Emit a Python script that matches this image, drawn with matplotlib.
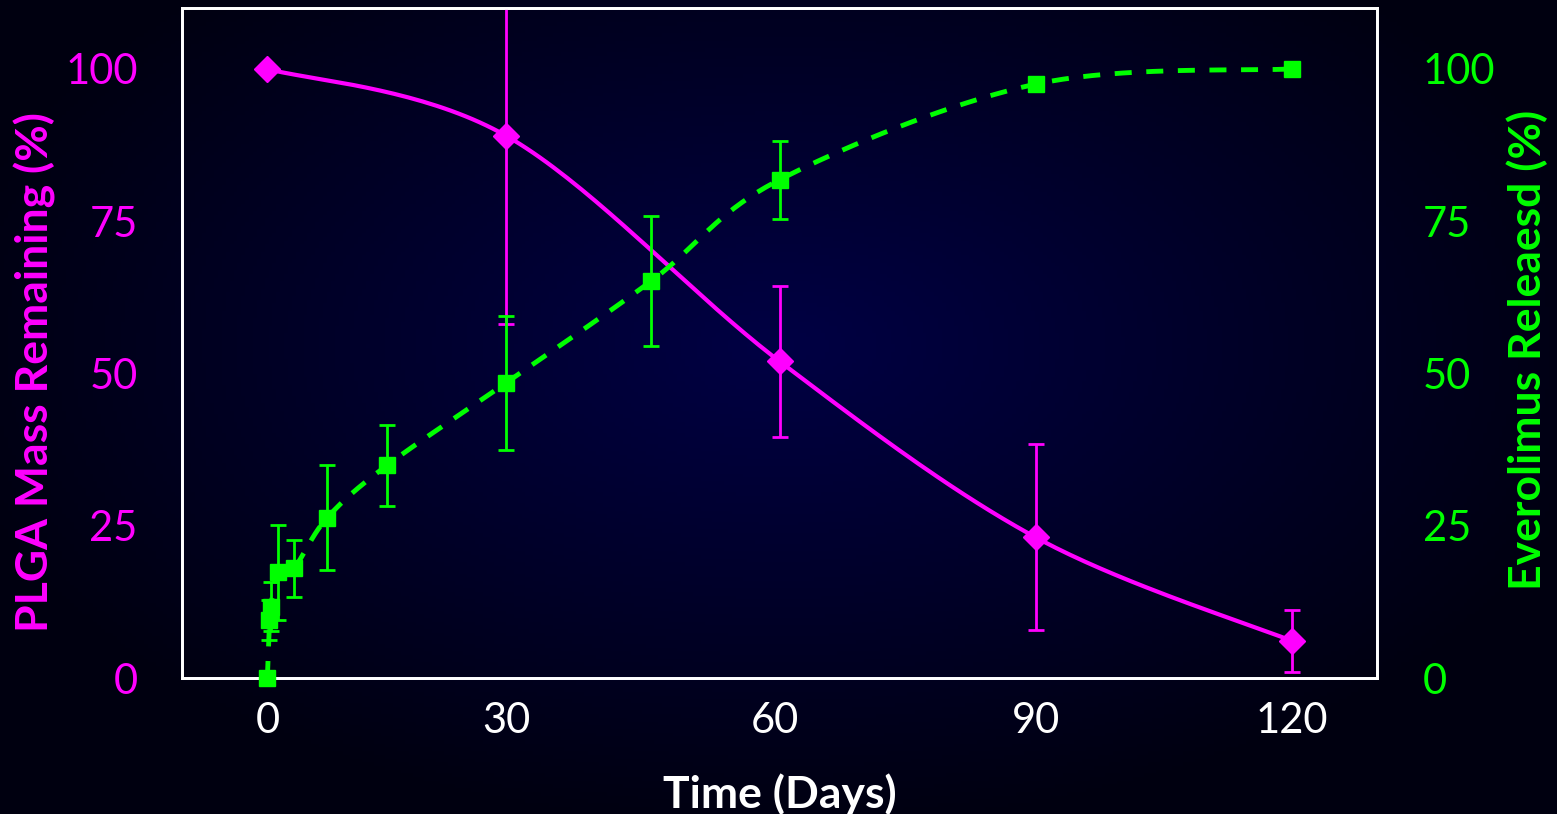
import numpy as np
import matplotlib
matplotlib.use('Agg')
import matplotlib.pyplot as plt

plt.rcParams['font.family'] = ['Lato', 'DejaVu Sans']

# PLGA mass remaining (%)
plga_days = [0, 28, 60, 90, 120]
plga_mass = [100, 89.0, 52.0, 23.1, 6.1]
plga_err = [0, 30.8, 12.4, 15.3, 5.1]

# Everolimus released (%)
evr_days = [0, 0.25, 0.4, 1.2, 3.1, 7, 14, 28, 45, 60, 90, 120]
evr_rel = [0, 9.5, 11.7, 17.4, 18.0, 26.3, 34.9, 48.5, 65.2, 81.8, 97.5, 100]
evr_err = [0, 3.3, 4.0, 7.8, 4.7, 8.6, 6.7, 11.0, 10.7, 6.4, 0, 0]

xtick_pos = [0, 28, 59.5, 90, 120]
xtick_lab = ['0', '30', '60', '90', '120']
ytick_vals = [0, 25, 50, 75, 100]

MAG = '#ff00ff'
GRN = '#00ff00'


def smooth(x, y, n=40):
    # excel-style smoothed line (catmull-rom through the points)
    p = np.column_stack([x, y]).astype(float)
    p = np.vstack([p[0], p, p[-1]])
    out = []
    for i in range(1, len(p) - 2):
        p0, p1, p2, p3 = p[i - 1], p[i], p[i + 1], p[i + 2]
        c1 = p1 + (p2 - p0) / 6
        c2 = p2 - (p3 - p1) / 6
        t = np.linspace(0, 1, n)[:, None]
        seg = (1 - t) ** 3 * p1 + 3 * (1 - t) ** 2 * t * c1 + 3 * (1 - t) * t ** 2 * c2 + t ** 3 * p2
        out.append(seg)
    out = np.vstack(out)
    return out[:, 0], out[:, 1]


fig = plt.figure(figsize=(15.57, 8.14), dpi=100)

# dark blue glow background
bg = fig.add_axes([0, 0, 1, 1])
gx, gy = np.meshgrid(np.linspace(-1, 1, 400), np.linspace(-1, 1, 220))
r = np.sqrt(((gx - 0.0) / 1.1) ** 2 + ((gy - 0.15) / 1.2) ** 2)
r = np.clip(r, 0, 1)
c_in = np.array([0, 0, 0x44]) / 255
c_out = np.array([0, 0, 0x10]) / 255
img = c_in[None, None, :] * (1 - r[..., None]) + c_out[None, None, :] * r[..., None]
bg.imshow(img, aspect='auto', extent=[0, 1, 0, 1], origin='lower')
bg.axis('off')

ax = fig.add_axes([182 / 1557, 1 - 678 / 814, (1377 - 182) / 1557, (678 - 8) / 814])
ax.patch.set_alpha(0)
ax2 = ax.twinx()

sx, sy = smooth(plga_days, plga_mass)
ax.plot(sx, sy, color=MAG, lw=3, zorder=3)
mk = ax.errorbar(plga_days, plga_mass, yerr=plga_err, fmt='D', color=MAG, ms=13,
                 elinewidth=2, capsize=6, capthick=2, zorder=4)
mk[0].set_clip_on(False)

ex, ey = smooth(evr_days, evr_rel)
ax2.plot(ex, ey, color=GRN, lw=3.5, ls=(0, (3.5, 3)), zorder=3, clip_on=False)
mk2 = ax2.errorbar(evr_days, evr_rel, yerr=evr_err, fmt='s', color=GRN, ms=11,
                   elinewidth=2, capsize=6, capthick=2, zorder=4)
mk2[0].set_clip_on(False)

for a in (ax, ax2):
    a.set_xlim(-10, 130)
    a.set_ylim(0, 110)
    for s in a.spines.values():
        s.set_color('white')
        s.set_linewidth(2)

ax.set_xticks(xtick_pos)
ax.set_xticklabels(xtick_lab)
ax.tick_params(axis='x', colors='white', labelsize=30, length=0, pad=17)
ax.set_yticks(ytick_vals)
ax.tick_params(axis='y', colors=MAG, labelsize=30, length=0, pad=32)
ax2.set_yticks(ytick_vals)
ax2.tick_params(axis='y', colors=GRN, labelsize=30, length=0, pad=33)

ax.set_xlabel('Time (Days)', color='white', fontsize=32, fontweight='bold', labelpad=24)
fig.text(35 / 1557, 1 - 372 / 814, 'PLGA Mass Remaining (%)', color=MAG, fontsize=32,
         fontweight='bold', rotation=90, ha='center', va='center')
fig.text(1527 / 1557, 1 - 350 / 814, 'Everolimus Releaesd (%)', color=GRN, fontsize=32,
         fontweight='bold', rotation=90, ha='center', va='center')

fig.savefig('out.png', dpi=100, facecolor='#00001a')
